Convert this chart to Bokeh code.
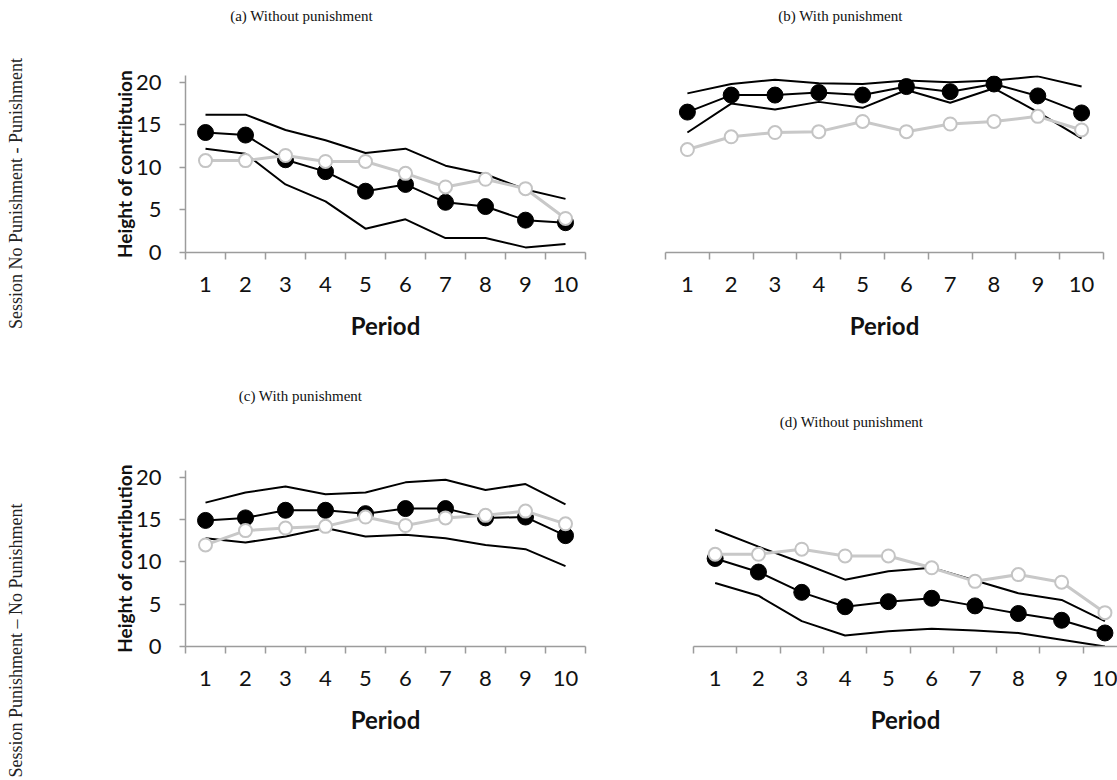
import math
from bokeh.plotting import figure
from bokeh.models import FixedTicker, Range1d
from bokeh.layouts import row, column
from bokeh.embed import file_html
from bokeh.resources import INLINE
from bokeh.core.properties import value

periods = [1, 2, 3, 4, 5, 6, 7, 8, 9, 10]
period_labels = ["1", "2", "3", "4", "5", "6", "7", "8", "9", "10"]
y_ticks = [0, 5, 10, 15, 20]

# (a) Session No Punishment - Punishment, without punishment
a_black = [14.1, 13.8, 10.9, 9.5, 7.2, 8.0, 5.9, 5.4, 3.8, 3.5]
a_white = [10.8, 10.8, 11.4, 10.7, 10.7, 9.3, 7.7, 8.6, 7.5, 4.0]
a_upper = [16.2, 16.2, 14.4, 13.2, 11.7, 12.2, 10.2, 9.2, 7.4, 6.3]
a_lower = [12.2, 11.6, 8.0, 6.0, 2.8, 3.9, 1.7, 1.7, 0.6, 1.0]

# (b) with punishment
b_black = [16.5, 18.5, 18.5, 18.8, 18.5, 19.5, 18.9, 19.8, 18.4, 16.4]
b_white = [12.1, 13.6, 14.1, 14.2, 15.4, 14.2, 15.1, 15.4, 16.0, 14.4]
b_upper = [18.7, 19.8, 20.3, 19.9, 19.8, 20.2, 20.0, 20.2, 20.7, 19.5]
b_lower = [14.1, 17.5, 16.8, 17.7, 17.0, 19.1, 17.6, 19.3, 16.5, 13.4]

# (c) Session Punishment - No Punishment, with punishment
c_black = [14.9, 15.2, 16.1, 16.1, 15.7, 16.3, 16.3, 15.2, 15.3, 13.1]
c_white = [12.0, 13.7, 14.0, 14.2, 15.3, 14.3, 15.2, 15.5, 16.0, 14.5]
c_upper = [17.0, 18.2, 18.9, 18.0, 18.2, 19.4, 19.7, 18.5, 19.2, 16.8]
c_lower = [12.8, 12.3, 13.0, 14.0, 13.0, 13.2, 12.8, 12.0, 11.5, 9.5]

# (d) without punishment
d_black = [10.4, 8.8, 6.4, 4.7, 5.3, 5.7, 4.8, 3.9, 3.1, 1.6]
d_white = [10.9, 10.9, 11.5, 10.7, 10.7, 9.3, 7.7, 8.5, 7.6, 4.0]
d_upper = [13.8, 11.8, 9.9, 7.9, 8.9, 9.3, 7.8, 6.3, 5.5, 3.0]
d_lower = [7.5, 6.0, 3.0, 1.3, 1.8, 2.1, 1.9, 1.6, 0.8, 0.0]

titles = ["(a) Without punishment", "(b) With punishment",
          "(c) With punishment", "(d) Without punishment"]
ylabels = ["Height of contribtuion", "Height of contribution"]
xlabel = "Period"
row_labels = ["Session No Punishment - Punishment",
              "Session Punishment \u2013 No Punishment"]

AXIS_COLOR = "#9c9c9c"
SANS = "Lato"
SERIF = "Liberation Serif"


def panel(black, white, upper, lower, width, height, ml, mr, mt, mb,
          xend, show_y, ylabel=None):
    p = figure(width=width, height=height,
               x_range=Range1d(0.5, xend), y_range=Range1d(0, 20.8),
               output_backend="svg", toolbar_location=None,
               min_border_left=ml, min_border_right=mr,
               min_border_top=mt, min_border_bottom=mb)
    p.outline_line_color = None
    p.grid.visible = False

    xa = p.xaxis[0]
    xa.ticker = FixedTicker(ticks=periods,
                            minor_ticks=[i + 0.5 for i in range(0, 11)])
    xa.major_label_overrides = {k: v for k, v in zip(periods, period_labels)}
    xa.major_tick_out = 0
    xa.major_tick_in = 0
    xa.minor_tick_out = 7
    xa.minor_tick_in = 0
    xa.minor_tick_line_color = AXIS_COLOR
    xa.minor_tick_line_width = 1.5
    xa.axis_line_color = AXIS_COLOR
    xa.axis_line_width = 1.5
    xa.major_label_text_font = SANS
    xa.major_label_text_font_size = "22px"
    xa.major_label_text_color = "#111111"
    xa.major_label_standoff = 17
    xa.axis_label = xlabel
    xa.axis_label_text_font = SANS
    xa.axis_label_text_font_size = "24px"
    xa.axis_label_text_font_style = "bold"
    xa.axis_label_text_color = "#111111"
    xa.axis_label_standoff = 16

    ya = p.yaxis[0]
    if show_y:
        ya.ticker = FixedTicker(ticks=y_ticks, minor_ticks=[])
        ya.major_tick_out = 6
        ya.major_tick_in = 0
        ya.major_tick_line_color = AXIS_COLOR
        ya.major_tick_line_width = 1.5
        ya.axis_line_color = AXIS_COLOR
        ya.axis_line_width = 1.5
        ya.major_label_text_font = SANS
        ya.major_label_text_font_size = "22px"
        ya.major_label_text_color = "#111111"
        ya.major_label_standoff = 18
        ya.axis_label = ylabel
        ya.axis_label_text_font = SANS
        ya.axis_label_text_font_size = "19px"
        ya.axis_label_text_font_style = "bold"
        ya.axis_label_text_color = "#111111"
        ya.axis_label_standoff = -3
    else:
        ya.visible = False

    p.line(periods, upper, line_color="black", line_width=2)
    p.line(periods, lower, line_color="black", line_width=2)
    p.line(periods, black, line_color="black", line_width=2)
    p.scatter(periods, black, size=16, fill_color="black", line_color="black")
    p.line(periods, white, line_color="#c8c8c8", line_width=3)
    p.scatter(periods, white, size=13, fill_color="white",
              line_color="#c4c4c4", line_width=2)
    return p


def text_fig(width, height, xs, ys_from_top, texts, size, color, angle=0.0):
    p = figure(width=width, height=height,
               x_range=Range1d(0, width), y_range=Range1d(0, height),
               x_axis_type=None, y_axis_type=None,
               output_backend="svg", toolbar_location=None, min_border=0)
    p.outline_line_color = None
    p.grid.visible = False
    p.text(x=xs, y=[height - y for y in ys_from_top], text=texts,
           text_font=value(SERIF), text_font_size=size,
           text_align="center", text_baseline="middle",
           text_color=color, angle=angle)
    return p


# row labels (left strip)
labels_fig = text_fig(40, 780, [15, 15], [193, 640], row_labels, "18px",
                      "#222222", angle=math.pi / 2)

# panel titles
titles_top = text_fig(1077, 40, [261, 800], [15, 15], titles[:2], "15px",
                      "#111111")
titles_bottom = text_fig(1077, 60, [260, 811], [15, 41], titles[2:], "15px",
                         "#111111")

pa = panel(a_black, a_white, a_upper, a_lower, 585, 340, 145, 40, 35, 128,
           10.5, True, ylabels[0])
pb = panel(b_black, b_white, b_upper, b_lower, 492, 340, 40, 14, 35, 128,
           10.5, False)
pc = panel(c_black, c_white, c_upper, c_lower, 585, 340, 145, 40, 30, 134,
           10.5, True, ylabels[1])
pd = panel(d_black, d_white, d_upper, d_lower, 492, 340, 68, 0, 30, 134,
           10.29, False)

layout = row(labels_fig,
             column(titles_top, row(pa, pb), titles_bottom, row(pc, pd)))
open("out.html", "w").write(file_html(layout, INLINE))
